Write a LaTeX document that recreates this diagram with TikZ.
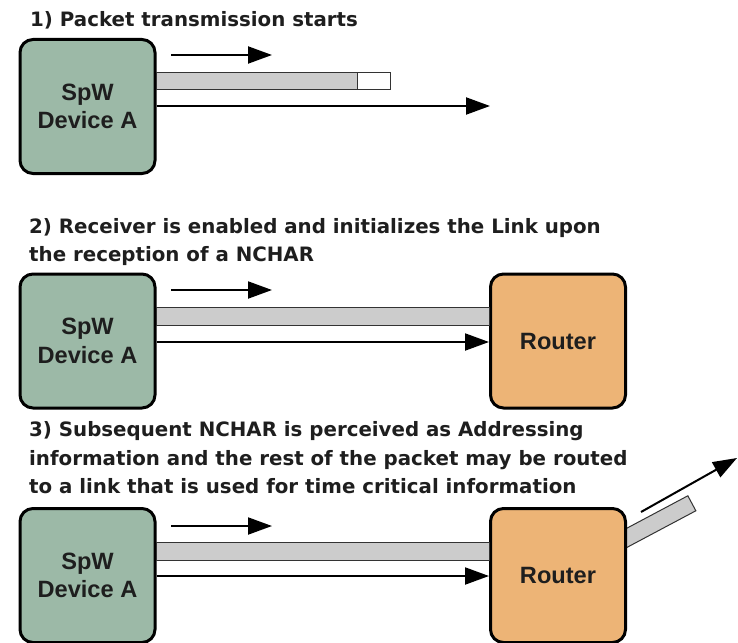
\documentclass[tikz,border=0pt]{standalone}
\usepackage{fontspec}
\setmainfont{DejaVu Sans}
\newfontfamily\boxfont{Liberation Sans}
\usetikzlibrary{arrows.meta,backgrounds}
\definecolor{devgreen}{HTML}{9CB9A7}
\definecolor{routorange}{HTML}{EDB476}
\definecolor{bargray}{HTML}{CCCCCC}
\definecolor{txt}{HTML}{1E1E1E}
\tikzset{
  devbox/.style={draw=black, line width=3pt, rounded corners=13pt, fill=devgreen,
    minimum width=135pt, minimum height=134pt, align=center, text=txt,
    font=\boxfont\bfseries\fontsize{23.6}{28.5}\selectfont, inner sep=0pt},
  routbox/.style={devbox, fill=routorange},
  title/.style={anchor=base west, align=left, inner sep=0pt, text=txt,
    font=\bfseries\fontsize{19.8}{28.3}\selectfont},
  barbox/.style={draw=black!80, line width=1pt, fill=bargray},
  arr/.style={line width=2pt, -{Triangle[length=24pt,width=17pt]}},
}
\begin{document}
\begin{tikzpicture}[x=1pt,y=-1pt]
\useasboundingbox (0,0) rectangle (738,642);
% ---------- Panel 1 (base anchor = baseline of last line)
\node[title] (t1) at (30,27) {1) Packet transmission starts};
\node[devbox] (g1) at (87.5,106.5) {SpW\\Device A};
\coordinate (a1s) at (171,55);
\coordinate (a1e) at (272,55);
\draw[arr] (a1s) -- (a1e);
\coordinate (b1e) at (357,89);
\coordinate (b1w) at (390,72);
\draw[barbox] (g1.east |- 0,72) rectangle (b1e);
\draw[draw=black!80, line width=1pt, fill=white] (b1e |- 0,72) rectangle (b1w |- 0,89);
\coordinate (l1e) at (490,106);
\draw[arr] (g1.east |- l1e) -- (l1e);
% ---------- Panel 2
\node[title] (t2) at (29,261.5) {2) Receiver is enabled and initializes the Link upon\\the reception of a NCHAR};
\node[devbox] (g2) at (87.5,341) {SpW\\Device A};
\node[routbox] (r2) at (558,341) {Router};
\coordinate (a2s) at (171,290);
\coordinate (a2e) at (272,290);
\draw[arr] (a2s) -- (a2e);
\draw[barbox] (g2.east |- 0,307) rectangle (r2.west |- 0,325);
\draw[arr] (g2.east |- 0,342) -- (r2.west |- 0,342);
% ---------- Panel 3
\node[title] (t3) at (29,493.5) {3) Subsequent NCHAR is perceived as Addressing\\information and the rest of the packet may be routed\\to a link that is used for time critical information};
\node[devbox] (g3) at (87.5,575.5) {SpW\\Device A};
\node[routbox] (r3) at (558,575.5) {Router};
\coordinate (a3s) at (171,526);
\coordinate (a3e) at (272,526);
\draw[arr] (a3s) -- (a3e);
\draw[barbox] (g3.east |- 0,542) rectangle (r3.west |- 0,560);
\draw[arr] (g3.east |- 0,576) -- (r3.west |- 0,576);
\begin{pgfonlayer}{background}
\node[barbox, rotate=28, minimum width=82pt, minimum height=17pt, inner sep=0pt,
  anchor=west] (ob) at ([xshift=-8pt]r3.east |- 0,542) {};
\end{pgfonlayer}
\coordinate (d1s) at (641,512);
\coordinate (d1e) at (737,458);
\draw[arr] (d1s) -- (d1e);
\end{tikzpicture}
\end{document}
